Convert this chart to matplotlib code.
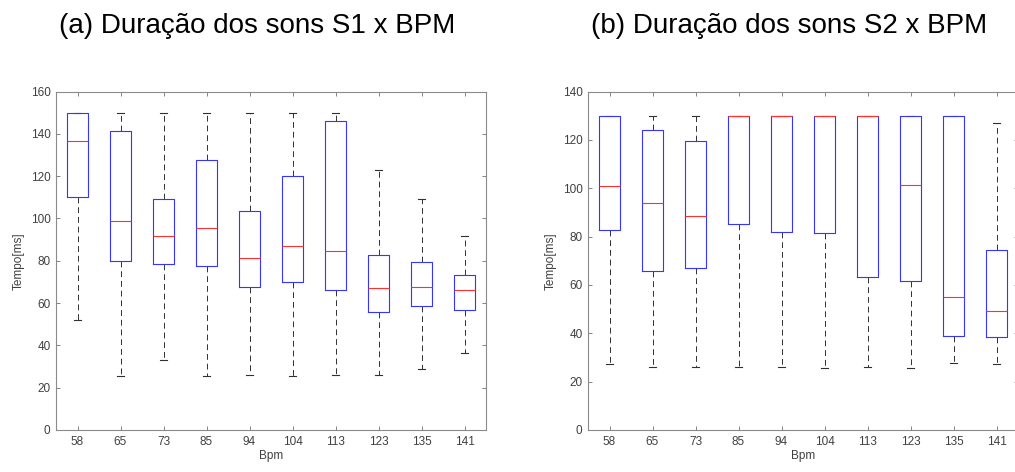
import matplotlib
matplotlib.use("Agg")
import matplotlib.pyplot as plt

plt.rcParams['font.family'] = ['Liberation Sans', 'DejaVu Sans']

bpm = ['58', '65', '73', '85', '94', '104', '113', '123', '135', '141']

# (a) duracao S1
s1_whislo = [52, 25.5, 33, 25.5, 25.8, 25.5, 25.8, 25.8, 29, 36.5]
s1_q1 = [110, 79.7, 78.7, 77.6, 67.8, 70, 66.1, 55.8, 58.5, 56.9]
s1_med = [136.7, 98.7, 91.5, 95.3, 81.4, 87, 84.6, 67, 67.5, 66.2]
s1_q3 = [150, 141.5, 109, 127.4, 103.6, 120, 145.9, 82.5, 79.2, 73.2]
s1_whishi = [150, 150, 150, 150, 150, 150, 150, 122.7, 109, 91.7]

# (b) duracao S2
s2_whislo = [27.4, 25.9, 25.9, 25.9, 25.9, 25.6, 26.1, 25.6, 27.9, 27.1]
s2_q1 = [82.6, 65.7, 67, 85.1, 81.8, 81.5, 63.1, 61.7, 39, 38.5]
s2_med = [101.1, 93.7, 88.4, 130, 130, 130, 130, 101.3, 55.2, 49.2]
s2_q3 = [130, 124.1, 119.7, 130, 130, 130, 130, 130, 130, 74.4]
s2_whishi = [130, 130, 130, 130, 130, 130, 130, 130, 130, 127]

W, H = 1015, 472
fig = plt.figure(figsize=(W / 100, H / 100), dpi=100)

def make_stats(lo, q1, med, q3, hi):
    stats = []
    for i in range(len(bpm)):
        stats.append({'label': bpm[i], 'whislo': lo[i], 'q1': q1[i], 'med': med[i],
                      'q3': q3[i], 'whishi': hi[i], 'fliers': []})
    return stats

def draw(ax, stats, ymax):
    ax.bxp(stats, widths=0.5, capwidths=0.18, showfliers=False,
           boxprops=dict(color='#3535ff', linewidth=0.8, zorder=3),
           medianprops=dict(color='#ff3030', linewidth=0.8, zorder=4),
           whiskerprops=dict(color='#303030', linewidth=0.7, linestyle=(0, (6, 4)), zorder=2),
           capprops=dict(color='#303030', linewidth=0.8, zorder=2))
    ax.set_xlim(0.5, 10.5)
    ax.set_ylim(0, ymax)
    ax.set_yticks(range(0, ymax + 1, 20))
    ax.tick_params(direction='in', top=True, right=True, length=3, width=0.6,
                   color='#707070', labelcolor='#404040', labelsize=8.5, pad=4)
    for sp in ax.spines.values():
        sp.set_color('#8a8a8a')
        sp.set_linewidth(0.8)
    ax.set_ylabel('Tempo[ms]', fontsize=8.5, color='#404040', labelpad=4)
    ax.set_xlabel('Bpm', fontsize=8.5, color='#404040', labelpad=2)

top, bot = 91.5, 430
ax1 = fig.add_axes([56 / W, 1 - bot / H, (486 - 56) / W, (bot - top) / H])
ax2 = fig.add_axes([588 / W, 1 - bot / H, (1018 - 588) / W, (bot - top) / H])

draw(ax1, make_stats(s1_whislo, s1_q1, s1_med, s1_q3, s1_whishi), 160)
draw(ax2, make_stats(s2_whislo, s2_q1, s2_med, s2_q3, s2_whishi), 140)

fig.text(257 / W, 1 - 33 / H, '(a) Duração dos sons S1 x BPM', ha='center', va='baseline', fontsize=20)
fig.text(789 / W, 1 - 33 / H, '(b) Duração dos sons S2 x BPM', ha='center', va='baseline', fontsize=20)

fig.savefig('out.png', dpi=100)
